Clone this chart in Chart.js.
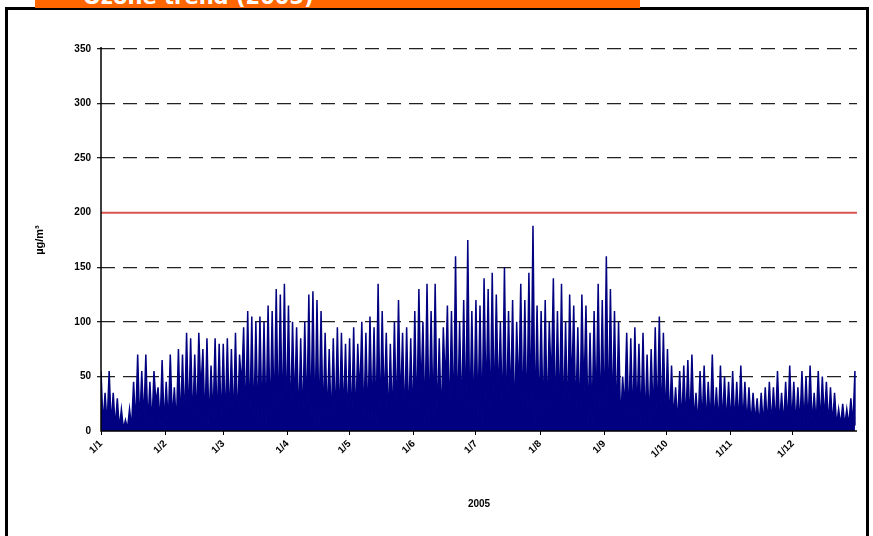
<!DOCTYPE html>
<html>
<head>
<meta charset="utf-8">
<script src="https://cdn.jsdelivr.net/npm/chart.js@4"></script>
<style>
body{margin:0;background:#fff;width:873px;height:536px;overflow:hidden;position:relative;font-family:"Liberation Sans",Arial,sans-serif;}
#frame{position:absolute;left:5px;top:7px;width:864px;height:540px;border:3px solid #000;box-sizing:border-box;}
#title{position:absolute;left:35px;top:0;width:605px;height:8px;background:#ff6600;overflow:hidden;}
#title span{position:absolute;left:48px;top:-15px;color:#fff;font-size:21px;font-weight:bold;font-family:"DejaVu Sans",sans-serif;white-space:nowrap;}
#c{position:absolute;left:0;top:0;}
</style>
</head>
<body>
<div id="frame"></div>
<div id="title"><span>Ozone trend (2005)</span></div>
<canvas id="c" width="873" height="536"></canvas>
<script>
// ozone peaks, roughly every two days through 2005 (µg/m3)
var peaks = [
 55,35,55,35,30,20,10,20,45,70,55,70,45,55,40,65,
 45,70,40,75,70,90,85,70,90,75,85,60,85,80,
 80,85,75,90,70,95,110,105,100,105,100,115,110,130,125,135,
 115,100,95,85,100,125,128,120,110,90,75,85,95,90,80,
 85,95,80,100,90,105,95,135,110,90,80,100,120,90,95,85,
 110,130,100,135,110,135,85,95,115,110,160,100,120,175,110,
 120,115,140,130,145,125,100,150,110,120,100,135,120,145,188,115,
 110,120,100,140,110,135,100,125,115,95,125,115,90,110,135,120,
 160,130,110,100,50,90,85,95,80,90,70,75,95,105,90,
 75,60,40,55,60,65,70,35,55,60,45,70,40,60,50,45,
 55,45,60,45,40,35,30,35,40,45,40,55,35,45,60,
 45,40,55,50,60,35,55,50,45,40,35,20,25,20,30,55
];
var troughs = [
 5,5,5,3,2,2,2,3,5,5,8,5,5,25,5,5,
 5,10,5,5,5,8,5,5,35,5,5,10,5,5,
 5,8,5,5,40,5,5,5,5,8,5,5,10,5,5,5,
 5,20,5,5,10,5,3,5,5,8,5,5,5,10,5,
 3,5,30,5,5,10,5,5,20,5,5,8,20,5,5,5,
 5,30,5,5,8,5,5,40,5,5,5,10,5,5,8,
 10,5,20,5,15,25,10,5,20,5,30,10,5,15,5,10,
 5,8,40,5,10,5,5,35,10,5,30,5,8,15,5,5,
 5,10,5,5,20,5,5,10,5,5,5,10,5,5,5,
 5,10,5,5,5,5,8,5,5,5,5,5,5,5,5,5,
 5,5,5,5,5,8,5,5,5,5,5,5,5,5,5,
 5,5,5,5,5,5,5,10,5,5,5,5,5,5,5,5
];
var monthStarts = [0,31,59,90,120,151,181,212,243,273,304,334];
var monthLabels = ['1/1','1/2','1/3','1/4','1/5','1/6','1/7','1/8','1/9','1/10','1/11','1/12'];
var yTicks = [0,50,100,150,200,250,300,350];
var limitValue = 200;

var pts = [];
var n = peaks.length;
var step = 364 / (n - 1);
for (var i = 0; i < n; i++) {
  pts.push({x: i * step, y: peaks[i]});
  pts.push({x: Math.min(i * step + step / 2, 364), y: troughs[i]});
}

var axisLines = {
  id: 'axisLines',
  afterDraw: function(chart){
    var a = chart.chartArea, ctx = chart.ctx;
    ctx.save();
    ctx.strokeStyle = '#000'; ctx.lineWidth = 1.5;
    ctx.beginPath();
    ctx.moveTo(a.left, a.top - 2); ctx.lineTo(a.left, a.bottom);
    ctx.lineTo(a.right, a.bottom);
    ctx.stroke();
    ctx.restore();
  }
};

new Chart(document.getElementById('c'), {
  type: 'line',
  data: {datasets: [
    {data: pts, borderColor: '#000080', backgroundColor: '#000080', borderWidth: 1.5, pointRadius: 0, fill: 'origin', tension: 0},
    {data: [{x: 0, y: limitValue}, {x: 365, y: limitValue}], borderColor: '#d9534f', borderWidth: 2, pointRadius: 0, fill: false}
  ]},
  options: {
    responsive: false, animation: false,
    plugins: {legend: {display: false}, tooltip: {enabled: false}},
    layout: {padding: {left: 31, top: 49, right: 16, bottom: 22}},
    scales: {
      x: {
        type: 'linear', min: 0, max: 365,
        afterBuildTicks: function(s){ s.ticks = monthStarts.map(function(v){ return {value: v}; }); },
        afterFit: function(s){ s.height = 83; },
        ticks: {autoSkip: false, maxRotation: 45, minRotation: 45, color: '#000', font: {family: 'Liberation Sans', size: 10, weight: 'bold'},
          callback: function(v){ return monthLabels[monthStarts.indexOf(v)]; }},
        grid: {display: true, drawOnChartArea: false, color: '#000', tickLength: 4},
        border: {display: false},
        title: {display: true, text: '2005', color: '#000', font: {family: 'Liberation Sans', size: 10, weight: 'bold'}}
      },
      y: {
        min: 0, max: 350,
        afterBuildTicks: function(s){ s.ticks = yTicks.map(function(v){ return {value: v}; }); },
        afterFit: function(s){ s.width = 70; },
        ticks: {color: '#000', font: {family: 'Liberation Sans', size: 10, weight: 'bold'}, padding: 6},
        grid: {color: function(c){ return c.tick.value === 0 || c.tick.value === limitValue ? 'rgba(0,0,0,0)' : '#222'; }, lineWidth: 1.3, tickLength: 4},
        border: {display: false, dash: [14, 8]},
        title: {display: true, text: 'µg/m³', color: '#000', font: {family: 'Liberation Sans', size: 11, weight: 'bold'}, padding: 2}
      }
    }
  },
  plugins: [axisLines]
});
</script>
</body>
</html>
